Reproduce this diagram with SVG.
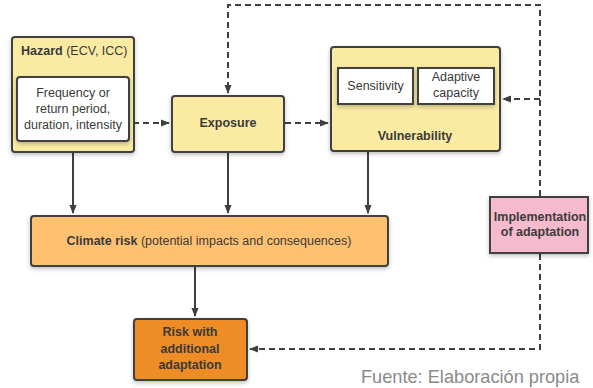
<svg xmlns="http://www.w3.org/2000/svg" width="593" height="388" viewBox="0 0 593 388">
  <defs>
    <marker id="tri" viewBox="0 0 10 10" refX="9" refY="5" markerWidth="9" markerHeight="9" markerUnits="userSpaceOnUse" orient="auto">
      <path d="M0,1 L10,5 L0,9 Z" fill="#3f3f3f"/>
    </marker>
    <filter id="shadow" x="-10%" y="-10%" width="125%" height="130%">
      <feDropShadow dx="0" dy="2" stdDeviation="2" flood-color="#000" flood-opacity="0.25"/>
    </filter>
  </defs>
  <style>
    .box { stroke: #3f3f3f; stroke-width: 2; filter: url(#shadow); }
    .yellow { fill: #fbeba2; }
    .white { fill: #ffffff; }
    .orange { fill: #fdc171; }
    .dark { fill: #ee8d25; }
    .pink { fill: #f5bacd; }
    text { font-family: "Liberation Sans", Arial, sans-serif; font-size: 12.5px; fill: #3a3a3a; }
    .b { font-weight: bold; }
    .solid { fill: none; stroke: #3f3f3f; stroke-width: 2; }
    .dash { fill: none; stroke: #3f3f3f; stroke-width: 2; stroke-dasharray: 6 4; }
    .note { font-size: 18.2px; fill: #8a8a8a; }
  </style>

  <g id="connectors">
    <line class="solid" x1="73" y1="153" x2="73" y2="213" marker-end="url(#tri)"/>
    <line class="solid" x1="228" y1="153" x2="228" y2="213" marker-end="url(#tri)"/>
    <line class="solid" x1="368" y1="152" x2="368" y2="213" marker-end="url(#tri)"/>
    <line class="solid" x1="195" y1="267" x2="195" y2="316" marker-end="url(#tri)"/>
    <line class="dash" x1="133" y1="123" x2="169" y2="123" marker-end="url(#tri)"/>
    <line class="dash" x1="285" y1="123" x2="328" y2="123" marker-end="url(#tri)"/>
    <polyline class="dash" points="540,196 540,5 228,5 228,93" marker-end="url(#tri)"/>
    <polyline class="dash" points="540,99 503,99" marker-end="url(#tri)"/>
    <polyline class="dash" points="540,254 540,349 250,349" marker-end="url(#tri)"/>
  </g>

  <g id="hazard">
    <rect class="box yellow" x="12" y="37" width="122" height="115" rx="3"/>
    <text x="21" y="55"><tspan class="b">Hazard</tspan> (ECV, ICC)</text>
    <rect class="box white" x="17" y="77" width="112" height="64" rx="3"/>
    <text text-anchor="middle" x="73" y="97">Frequency or</text>
    <text text-anchor="middle" x="73" y="113">return period,</text>
    <text text-anchor="middle" x="73" y="129">duration, intensity</text>
  </g>

  <g id="exposure">
    <rect class="box yellow" x="172" y="96" width="112" height="56" rx="3"/>
    <text class="b" text-anchor="middle" x="228" y="127">Exposure</text>
  </g>

  <g id="vulnerability">
    <rect class="box yellow" x="331" y="47" width="169" height="104" rx="3"/>
    <rect class="box white" x="338" y="68" width="75" height="36"/>
    <text text-anchor="middle" x="375.5" y="90">Sensitivity</text>
    <rect class="box white" x="418" y="68" width="76" height="36"/>
    <text text-anchor="middle" x="456" y="81">Adaptive</text>
    <text text-anchor="middle" x="456" y="97">capacity</text>
    <text class="b" text-anchor="middle" x="415" y="140">Vulnerability</text>
  </g>

  <g id="climate-risk">
    <rect class="box orange" x="31" y="216" width="357" height="50" rx="3"/>
    <text text-anchor="middle" x="209" y="245"><tspan class="b">Climate risk</tspan> (potential impacts and consequences)</text>
  </g>

  <g id="implementation">
    <rect class="box pink" x="490" y="197" width="98" height="56"/>
    <text class="b" text-anchor="middle" x="540" y="221">Implementation</text>
    <text class="b" text-anchor="middle" x="540" y="236">of adaptation</text>
  </g>

  <g id="risk-with-adaptation">
    <rect class="box dark" x="134" y="319" width="113" height="61" rx="3"/>
    <text class="b" text-anchor="middle" x="190" y="336">Risk with</text>
    <text class="b" text-anchor="middle" x="190" y="353">additional</text>
    <text class="b" text-anchor="middle" x="190" y="369">adaptation</text>
  </g>

  <text class="note" x="361" y="383">Fuente: Elaboración propia</text>
</svg>
